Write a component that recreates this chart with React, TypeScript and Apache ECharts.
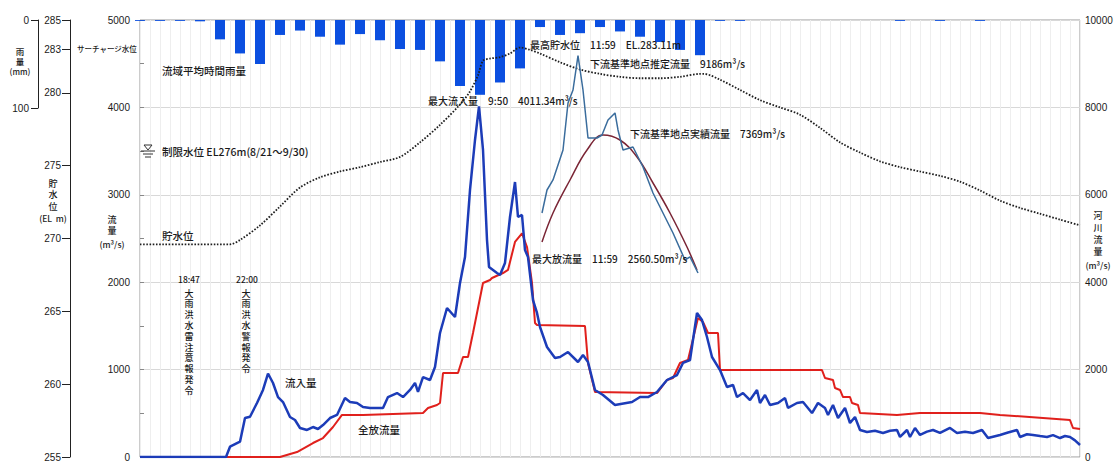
import React, { useEffect, useRef } from "react";
import * as echarts from "echarts";

// hourly basin-average rainfall (mm), hour index from chart start
const rainfall = [1, 1, 1, 1.5, 22, 38, 50, 17, 12, 19, 28, 16, 23, 33, 34, 47, 75, 85, 71, 55, 8, 17, 15, 8, 13, 19, 25, 34, 40, 1, 1, 0, 0, 0, 0, 0, 0, 0, 1, 0, 1, 0, 1, 0, 0, 0, 0, 0];

// inflow (m3/s) [hour, value]
const inflow: [number, number][] = [
  [0, 0], [4.3, 0], [4.5, 118], [5.0, 175], [5.25, 446], [5.5, 461], [5.85, 618], [6.15, 767], [6.4, 955],
  [6.65, 847], [6.9, 686], [7.15, 629], [7.5, 458], [7.75, 423], [8.0, 332], [8.35, 309], [8.65, 343], [8.9, 320],
  [9.15, 366], [9.5, 446], [9.85, 481], [10.25, 675], [10.5, 629], [10.85, 618], [11.15, 572], [11.5, 561],
  [12.15, 561], [12.4, 686], [12.85, 732], [13.15, 686], [13.5, 767], [13.75, 847], [13.9, 744], [14.15, 915],
  [14.5, 881], [14.75, 1030], [15.0, 1419], [15.35, 1705], [15.75, 1602], [16.0, 1991], [16.25, 2288],
  [16.5, 3055], [16.75, 3627], [16.95, 4011], [17.15, 3513], [17.35, 2483], [17.45, 2174], [17.85, 2105],
  [18.0, 2082], [18.25, 2220], [18.5, 2746], [18.75, 3146], [18.9, 2746], [19.1, 2769], [19.25, 2368],
  [19.4, 2288], [19.65, 1796], [19.85, 1648], [20.0, 1487], [20.35, 1259], [20.75, 1133], [21.0, 1144],
  [21.4, 1201], [21.9, 1087], [22.15, 1167], [22.4, 1087], [22.75, 767], [23.15, 709], [23.75, 595],
  [24.6, 629], [25.0, 686], [25.4, 686], [25.85, 744], [26.35, 881], [26.85, 938], [27.15, 1076], [27.5, 1110],
  [27.85, 1648], [28.1, 1567], [28.35, 1373], [28.6, 1144], [29.0, 995], [29.35, 801], [29.65, 824],
  [29.85, 686], [30.15, 732], [30.5, 652], [30.85, 767], [31.0, 618], [31.25, 709], [31.5, 595], [31.9, 618],
  [32.25, 675], [32.4, 561], [32.85, 618], [33.15, 629], [33.6, 503], [33.9, 618], [34.25, 560], [34.4, 481],
  [34.65, 595], [34.9, 446], [35.25, 561], [35.5, 389], [35.75, 458], [36.0, 309], [36.35, 286], [36.75, 300],
  [37.15, 275], [37.5, 300], [37.85, 309], [38.0, 229], [38.35, 309], [38.5, 229], [38.75, 332], [39.0, 252],
  [39.35, 290], [39.65, 309], [40.0, 275], [40.5, 332], [40.85, 275], [41.25, 290], [41.65, 275], [42.1, 309],
  [42.4, 217], [43.0, 252], [43.4, 280], [43.85, 309], [44.0, 229], [44.35, 260], [44.65, 252], [45.0, 240],
  [45.35, 229], [45.65, 250], [46.0, 217], [46.25, 240], [46.5, 229], [46.75, 190], [47.0, 137],
];

// total release (m3/s)
const outflow: [number, number][] = [
  [0, 0], [7.0, 0], [7.85, 57], [8.65, 160], [9.15, 217], [9.65, 343], [10.1, 481], [11.15, 481], [14.15, 503],
  [14.4, 561], [14.85, 595], [15.0, 618], [15.15, 961], [15.9, 961], [16.15, 1144], [16.4, 1144], [16.65, 1419],
  [17.15, 1991], [17.5, 2025], [17.6, 2048], [18.15, 2105], [18.4, 2140], [18.75, 2460], [19.1, 2560],
  [19.35, 2403], [19.6, 1991], [19.75, 1533], [19.85, 1510], [22.25, 1499], [22.4, 1076], [22.75, 744],
  [25.85, 732], [26.35, 881], [26.65, 904], [27.0, 1076], [27.4, 1110], [27.9, 1590], [28.15, 1545],
  [28.4, 1419], [28.9, 1419], [29.0, 995], [34.1, 995], [34.25, 904], [34.65, 881], [34.75, 790], [35.0, 767],
  [35.15, 686], [35.5, 686], [35.6, 618], [35.9, 595], [36.0, 503], [37.85, 481], [39.0, 503], [42.0, 503],
  [43.0, 481], [46.5, 423], [46.65, 332], [47.0, 320],
];

// downstream reference point estimated flow (m3/s, right axis)
const downstreamEstimated: [number, number][] = [
  [20.1, 5584], [20.35, 6110], [20.65, 6339], [21.15, 7025], [21.4, 8101], [21.65, 8398], [21.9, 9186],
  [22.15, 8398], [22.4, 7300], [22.85, 7300], [23.1, 7368], [23.4, 7712], [23.75, 7872], [23.9, 7483],
  [24.15, 7025], [24.65, 7094], [25.15, 6636], [25.65, 6041], [26.15, 5584], [26.65, 5126], [27.25, 4508],
  [27.5, 4580], [27.9, 4211],
];

// downstream reference point observed flow (m3/s, right axis)
const downstreamObserved: [number, number][] = [
  [20.1, 4920], [20.65, 5584], [21.5, 6339], [22.35, 7025], [23.15, 7369], [24.0, 7254], [24.85, 6865],
  [25.65, 6270], [26.5, 5584], [27.35, 4805], [27.85, 4279],
];

// reservoir water level (EL m)
const waterLevel: [number, number][] = [
  [0, 269.6], [4.5, 269.6], [5, 269.9], [6, 270.9], [7, 272.2], [8, 273.5], [9, 274.2], [10, 274.6], [11, 274.9],
  [12, 275.25], [13, 275.6], [14, 276.6], [15, 277.8], [16, 279.2], [16.5, 280.1], [16.9, 281.2], [17.15, 282.2],
  [17.5, 282.35], [18, 282.45], [18.5, 282.7], [19, 283.11], [19.5, 282.95], [20, 282.7], [21, 282.1],
  [22, 281.6], [23, 281.3], [24, 281.1], [25, 281.0], [26, 281.0], [27, 281.1], [28, 281.3], [28.2, 281.3],
  [29, 280.9], [30, 280.2], [31, 279.5], [32, 279.0], [33, 278.5], [34, 277.6], [35, 276.6], [36, 275.9],
  [37, 275.3], [38, 274.9], [39, 274.6], [40, 274.3], [41, 273.9], [42, 273.3], [43, 272.6], [44, 272.1],
  [45, 271.7], [46, 271.3], [47, 270.9],
];

const levelTicks = [255, 260, 265, 270, 275, 280, 283, 285];

const FONT = '"Liberation Sans", "Noto Sans CJK JP", sans-serif';
const CJK = '"Noto Sans CJK JP", "Liberation Sans", sans-serif';

const plain = (v: number) => String(v);

function txt(text: string, x: number, y: number, size: number, align = "left") {
  return {
    type: "text",
    x,
    y,
    z: 100,
    style: {
      text,
      fill: "#1a1a1a",
      fontSize: size,
      fontFamily: CJK,
      fontWeight: 500,
      align,
      textAlign: align,
      verticalAlign: "middle",
      textVerticalAlign: "middle",
    },
  };
}

// vertical text: one element per character
function vtxt(chars: string[], x: number, yFirst: number, size: number, step: number) {
  return chars.map((c, i) => txt(c, x, yFirst + i * step, size, "center"));
}

export default function App() {
  const ref = useRef<HTMLDivElement>(null);
  useEffect(() => {
    if (!ref.current) return;
    const chart = echarts.init(ref.current, undefined, { renderer: "svg" });
    const option: any = {
      animation: false,
      backgroundColor: "#fff",
      grid: [
        { left: 140, right: 37, top: 20, bottom: 8, show: true, borderColor: "#999", borderWidth: 1, backgroundColor: "transparent" },
        { left: 140, right: 37, top: 20, height: 88, show: false },
      ],
      xAxis: [
        {
          type: "value", gridIndex: 0, min: 0, max: 47, interval: 0.5,
          axisLabel: { show: false }, axisTick: { show: false }, axisLine: { show: false },
          splitLine: { show: true, lineStyle: { color: "#eeeeee", width: 1 } },
        },
        {
          type: "value", gridIndex: 1, min: 0, max: 47, interval: 1,
          axisLabel: { show: false }, axisTick: { show: false }, axisLine: { show: false }, splitLine: { show: false },
        },
      ],
      yAxis: [
        {
          type: "value", gridIndex: 0, position: "left", min: 0, max: 5000, interval: 1000,
          axisLine: { show: false, onZero: false },
          axisTick: { show: true, inside: true, length: 4, lineStyle: { color: "#888" } },
          minorTick: { show: true, splitNumber: 2, length: 4, lineStyle: { color: "#888" } },
          axisLabel: { fontSize: 10, color: "#1a1a1a", fontFamily: FONT, margin: 10, formatter: plain },
          splitLine: { show: true, lineStyle: { color: "#d8d8d8", width: 1 } },
        },
        {
          type: "value", gridIndex: 0, position: "left", offset: 70, min: 255, max: 285, interval: 5,
          axisLine: { show: true, onZero: false, lineStyle: { color: "#222", width: 1 } },
          axisTick: { show: true, length: 8, customValues: levelTicks, lineStyle: { color: "#222" } },
          axisLabel: { fontSize: 10, color: "#1a1a1a", fontFamily: FONT, margin: 9, customValues: levelTicks, formatter: plain },
          splitLine: { show: false },
        },
        {
          type: "value", gridIndex: 0, position: "right", min: 0, max: 10000, interval: 2000,
          axisLine: { show: false, onZero: false }, axisTick: { show: false },
          axisLabel: { fontSize: 10, color: "#1a1a1a", fontFamily: FONT, margin: 5, formatter: plain },
          splitLine: { show: false },
        },
        {
          type: "value", gridIndex: 1, position: "left", offset: 102, min: 0, max: 100, interval: 100, inverse: true,
          axisLine: { show: true, onZero: false, lineStyle: { color: "#222", width: 1 } },
          axisTick: { show: true, length: 7, lineStyle: { color: "#222" } },
          axisLabel: { fontSize: 10, color: "#1a1a1a", fontFamily: FONT, margin: 9, formatter: plain },
          splitLine: { show: false },
        },
      ],
      series: [
        {
          name: "流域平均時間雨量", type: "bar", xAxisIndex: 1, yAxisIndex: 3,
          data: rainfall.map((v, i) => [i, v]), barWidth: 10, itemStyle: { color: "#0b4fe0" }, clip: true, z: 2,
        },
        {
          name: "貯水位", type: "line", xAxisIndex: 0, yAxisIndex: 1, data: waterLevel, symbol: "none", smooth: 0.3,
          lineStyle: { color: "#1e1e1e", width: 1.8, type: [1.6, 1.6] }, z: 3,
        },
        {
          name: "下流基準地点実績流量", type: "line", xAxisIndex: 0, yAxisIndex: 2, data: downstreamObserved,
          symbol: "none", smooth: 0.4, lineStyle: { color: "#7a2535", width: 1.5 }, z: 4,
        },
        {
          name: "下流基準地点推定流量", type: "line", xAxisIndex: 0, yAxisIndex: 2, data: downstreamEstimated,
          symbol: "none", lineStyle: { color: "#3a6c9c", width: 1.5 }, z: 5,
        },
        {
          name: "全放流量", type: "line", xAxisIndex: 0, yAxisIndex: 0, data: outflow, symbol: "none",
          lineStyle: { color: "#e0201c", width: 2 }, z: 6,
        },
        {
          name: "流入量", type: "line", xAxisIndex: 0, yAxisIndex: 0, data: inflow, symbol: "none",
          lineStyle: { color: "#1c3cb8", width: 2.5 }, z: 7,
        },
      ],
      graphic: [
        // axis titles
        ...vtxt(["雨", "量"], 20, 51, 8.5, 10),
        txt("(mm)", 20, 71, 8, "center"),
        ...vtxt(["貯", "水", "位"], 53, 183, 9, 11.5),
        txt("(EL  m)", 53, 218, 8.5, "center"),
        ...vtxt(["流", "量"], 112, 219, 9, 11.5),
        txt("(m³/s)", 112, 244, 8.5, "center"),
        ...vtxt(["河", "川", "流", "量"], 1098, 215, 9, 12.3),
        txt("(m³/s)", 1098, 265, 8.5, "center"),
        // annotations
        txt("サーチャージ水位", 77, 48, 7.5),
        txt("流域平均時間雨量", 162, 70, 10.5),
        txt("最高貯水位　11:59　EL.283.11m", 530, 44, 10),
        txt("下流基準地点推定流量　9186m³/s", 590, 63, 10),
        txt("最大流入量　9:50　4011.34m³/s", 428, 100, 10),
        txt("下流基準地点実績流量　7369m³/s", 630, 133, 10),
        txt("制限水位 EL276m(8/21～9/30)", 162, 151, 10.5),
        txt("貯水位", 162, 235, 10.5),
        txt("18:47", 189, 279, 8.5, "center"),
        ...vtxt(["大", "雨", "洪", "水", "雷", "注", "意", "報", "発", "令"], 189, 293, 9, 10.8),
        txt("22:00", 247, 279, 8.5, "center"),
        ...vtxt(["大", "雨", "洪", "水", "警", "報", "発", "令"], 246, 293, 9, 10.8),
        txt("流入量", 285, 382, 10.5),
        txt("全放流量", 358, 429, 10.5),
        txt("最大放流量　11:59　2560.50m³/s", 532, 258, 10),
        // restricted water level symbol
        {
          type: "polygon", z: 100,
          shape: { points: [[144, 145], [152, 145], [148, 150]] },
          style: { fill: "none", stroke: "#333", lineWidth: 1 },
        },
        { type: "line", z: 100, shape: { x1: 141, y1: 151, x2: 155, y2: 151 }, style: { stroke: "#333", lineWidth: 1 } },
        { type: "line", z: 100, shape: { x1: 143, y1: 154, x2: 153, y2: 154 }, style: { stroke: "#333", lineWidth: 1 } },
        { type: "line", z: 100, shape: { x1: 145, y1: 157, x2: 151, y2: 157 }, style: { stroke: "#333", lineWidth: 1 } },
      ],
    };
    chart.setOption(option);
    return () => chart.dispose();
  }, []);
  return (
    <div
      ref={ref}
      style={{ position: "fixed", left: 0, top: 0, width: 1117, height: 465, background: "#fff" }}
    />
  );
}
